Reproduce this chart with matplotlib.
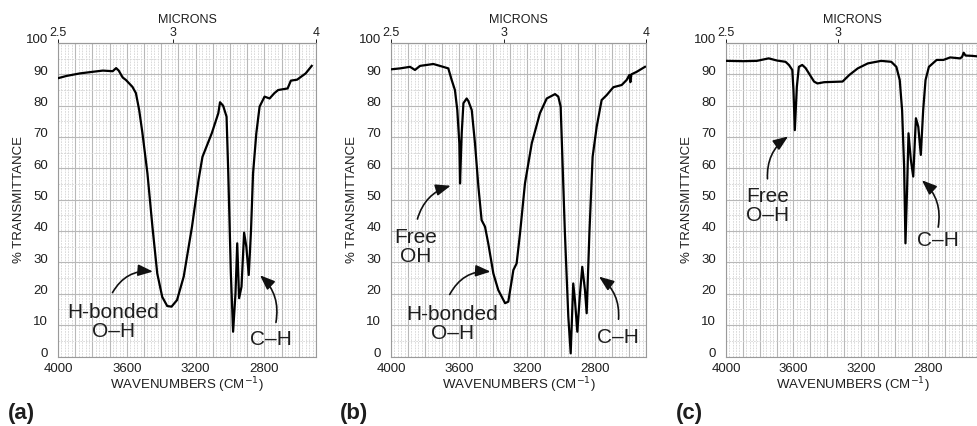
import matplotlib
matplotlib.use("Agg")
import matplotlib.pyplot as plt
import matplotlib.transforms as mtransforms
import numpy as np

plt.rcParams["font.family"] = ["Liberation Sans", "DejaVu Sans"]

# panel (a): wavenumber (cm-1) and % transmittance
wn_a = [3998, 3950, 3873, 3800, 3739, 3682, 3662, 3647, 3624, 3605, 3567, 3547, 3528,
        3509, 3480, 3451, 3423, 3394, 3365, 3340, 3308, 3269, 3221, 3183, 3160, 3106,
        3068, 3058, 3040, 3020, 3010, 2995, 2982, 2968, 2958, 2947, 2933, 2918, 2905,
        2891, 2878, 2866, 2847, 2828, 2799, 2770, 2742, 2720, 2665, 2646, 2610, 2560, 2525]
t_a = [88.8, 89.5, 90.3, 90.8, 91.2, 91.0, 92.0, 91.2, 89.0, 88.2, 86.0, 84.0, 78.6,
       71.2, 58.4, 41.4, 26.5, 19.0, 16.1, 15.9, 18.0, 25.5, 41.4, 56.3, 63.7, 71.2,
       77.6, 81.1, 80.0, 76.5, 58.4, 26.5, 7.9, 20.2, 36.1, 18.6, 22.3, 39.5, 35.0,
       26.0, 40.0, 58.4, 71.2, 79.7, 82.9, 82.3, 84.0, 85.0, 85.5, 88.0, 88.3, 90.3, 92.7]

# panel (b)
wn_b = [4000, 3947, 3888, 3859, 3829, 3751, 3712, 3663, 3643, 3624, 3610, 3598, 3594,
        3584, 3574, 3555, 3545, 3525, 3506, 3486, 3467, 3447, 3428, 3398, 3369, 3329,
        3310, 3280, 3261, 3241, 3212, 3172, 3124, 3084, 3035, 3016, 3002, 2977, 2957,
        2943, 2928, 2918, 2904, 2888, 2875, 2859, 2849, 2833, 2814, 2790, 2761, 2731,
        2692, 2643, 2614, 2598, 2592, 2586, 2555, 2506]
t_b = [91.6, 91.9, 92.4, 91.4, 92.7, 93.3, 92.7, 91.9, 88.2, 85.0, 78.6, 68.0, 55.2,
       71.2, 80.8, 82.3, 81.5, 78.6, 68.0, 54.2, 43.5, 41.4, 36.1, 26.5, 21.2, 17.0,
       17.5, 27.6, 29.7, 39.3, 55.2, 68.0, 77.6, 82.3, 83.7, 82.9, 79.7, 39.3, 12.7,
       1.0, 23.3, 18.0, 7.9, 20.2, 28.6, 21.2, 13.8, 39.3, 63.7, 73.3, 81.8, 83.4,
       85.9, 86.6, 88.2, 89.8, 87.5, 90.0, 90.8, 92.4]

# panel (c)
wn_c = [3996, 3900, 3817, 3747, 3697, 3647, 3627, 3607, 3600, 3592, 3580, 3568, 3548,
        3528, 3478, 3458, 3418, 3309, 3269, 3219, 3159, 3080, 3020, 2990, 2970, 2956,
        2944, 2936, 2926, 2918, 2904, 2890, 2880, 2874, 2860, 2845, 2831, 2817, 2797,
        2751, 2711, 2671, 2612, 2600, 2591, 2580, 2542, 2480]
t_c = [94.3, 94.2, 94.3, 95.1, 94.4, 94.0, 93.0, 91.4, 85.0, 72.2, 86.0, 92.4, 93.0,
       92.0, 87.7, 87.1, 87.5, 87.7, 89.8, 91.9, 93.5, 94.3, 94.0, 92.4, 88.2, 78.6,
       60.5, 36.1, 54.2, 71.2, 62.7, 57.4, 69.0, 76.0, 73.3, 64.3, 78.6, 88.2, 92.4,
       94.6, 94.6, 95.4, 95.1, 95.6, 96.9, 96.0, 95.9, 95.6]

micron_ticks = [2.5, 3, 4]

panels = [
    ("(a)", wn_a, t_a, micron_ticks,
     [("H-bonded\nO\u2013H", 3678, 11.0, (3691, 19.6), (3432, 27.0), -0.35),
      ("C\u2013H", 2760, 5.3, (2736, 10.0), (2838, 26.5), 0.3)]),
    ("(b)", wn_b, t_b, micron_ticks,
     [("Free\nOH", 3853, 34.8, (3849, 43.0), (3633, 54.7), -0.3),
      ("H-bonded\nO\u2013H", 3638, 10.4, (3662, 19.0), (3398, 27.0), -0.35),
      ("C\u2013H", 2668, 6.2, (2663, 11.0), (2790, 26.0), 0.3)]),
    ("(c)", wn_c, t_c, micron_ticks[:2],
     [("Free\nO\u2013H", 3752, 48.0, (3753, 55.8), (3618, 70.7), -0.3),
      ("C\u2013H", 2746, 37.0, (2745, 40.4), (2851, 56.8), 0.3)]),
]

fig = plt.figure(figsize=(9.77, 4.26), dpi=100)
W, H = 977.0, 426.0
lefts = [58, 391, 726]
widths = [258, 255, 253]
top_px, bot_px = 43, 356.5
ink = "#1e1e1e"
lift = mtransforms.ScaledTranslation(0, 3 / 72, fig.dpi_scale_trans)

for (tag, wn, t, mic, notes), l, w in zip(panels, lefts, widths):
    ax = fig.add_axes([l / W, 1 - bot_px / H, w / W, (bot_px - top_px) / H])
    ax.set_xlim(4000, 2500)
    ax.set_ylim(0, 100)

    # graph paper grid
    for x in np.arange(4000, 2499, -20):
        if x % 100 == 0:
            ax.axvline(x, color="#b8b8b8", lw=0.8, zorder=0)
        else:
            ax.axvline(x, color="#d4d4d4", lw=0.6, ls=(0, (2, 1.3)), zorder=0)
    for y in np.arange(0, 101, 5):
        if y % 10 == 0:
            ax.axhline(y, color="#b8b8b8", lw=0.8, zorder=0)
        else:
            ax.axhline(y, color="#d4d4d4", lw=0.6, ls=(0, (2, 1.3)), zorder=0)

    ax.plot(wn, t, color="black", lw=1.6, zorder=3)

    ax.set_xticks([4000, 3600, 3200, 2800])
    ax.set_yticks(np.arange(0, 101, 10))
    ax.tick_params(length=0, labelsize=9.5, colors=ink)
    ax.tick_params(axis="x", pad=5)
    ax.tick_params(axis="y", pad=7)
    for lab in ax.get_yticklabels():
        lab.set_transform(lab.get_transform() + lift)
    for s in ax.spines.values():
        s.set_color("#9a9a9a")
        s.set_linewidth(0.8)

    ax.set_xlabel("WAVENUMBERS (CM$^{-1}$)", fontsize=9.5, color=ink, labelpad=0)
    ax.set_ylabel("% TRANSMITTANCE", fontsize=9.5, color=ink, labelpad=1)

    top = ax.secondary_xaxis("top")
    top.set_ticks([1e4 / m for m in mic], labels=[f"{m:g}" for m in mic])
    top.tick_params(length=3, width=0.7, labelsize=9, colors=ink, pad=0)
    top.spines["top"].set_color("#9a9a9a")
    top.set_xlabel("MICRONS", fontsize=9, color=ink, labelpad=3)

    for text, tx, ty, start, end, rad in notes:
        ax.text(tx, ty, text, ha="center", va="center", fontsize=15,
                linespacing=1.0, color=ink, zorder=4)
        ax.annotate("", xy=end, xytext=start,
                    arrowprops=dict(arrowstyle="-|>,head_length=0.9,head_width=0.35",
                                    color="#111111", lw=1.2,
                                    connectionstyle=f"arc3,rad={rad}"),
                    zorder=4)

    fig.text((l - 37) / W, 1 - 413 / H, tag, fontsize=16, fontweight="bold",
             ha="center", va="center", color=ink)

fig.savefig("out.png", dpi=100)
